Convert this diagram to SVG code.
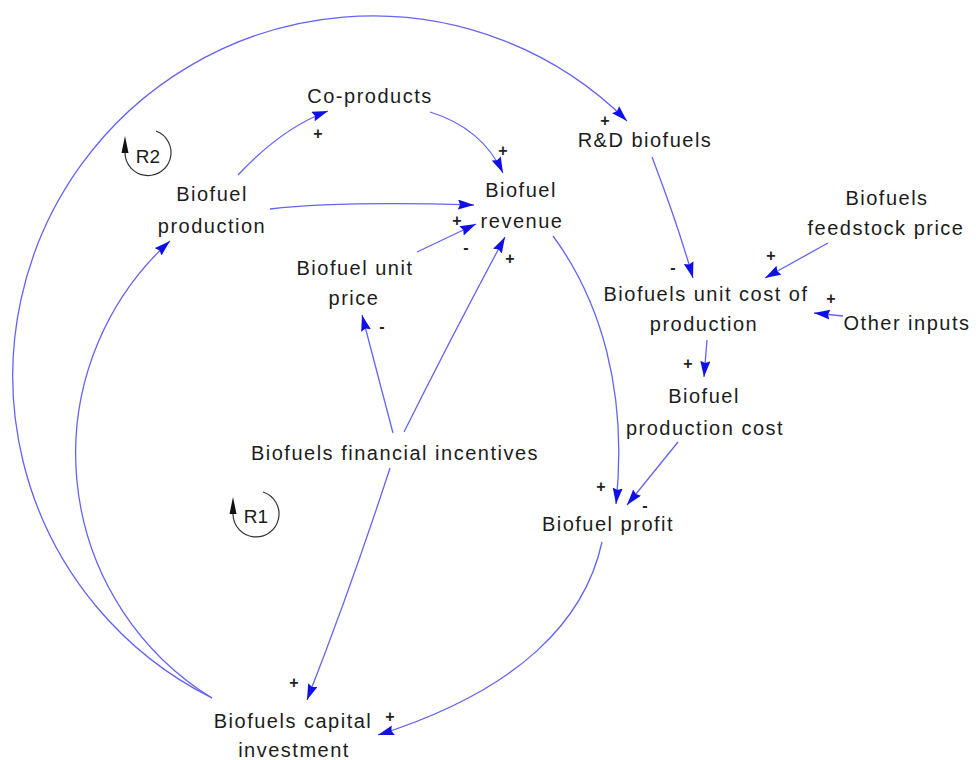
<svg xmlns="http://www.w3.org/2000/svg" width="976" height="760" viewBox="0 0 976 760">
  <style>
    .lbl { font-family: "Liberation Sans", Arial, sans-serif; font-size: 20px; letter-spacing: 1.5px; fill: #1c1c1c; text-anchor: middle; }
    .sgn { font-family: "Liberation Sans", Arial, sans-serif; font-size: 16px; font-weight: bold; fill: #222; text-anchor: middle; }
    .loop { font-family: "Liberation Sans", Arial, sans-serif; font-size: 19px; fill: #1c1c1c; text-anchor: middle; }
    .link { fill: none; stroke: #6464f2; stroke-width: 1.3; marker-end: url(#head); }
    .ring { fill: none; stroke: #333; stroke-width: 1.2; }
  </style>
  <defs>
    <marker id="head" markerUnits="userSpaceOnUse" markerWidth="18" markerHeight="12" refX="16" refY="5" orient="auto">
      <path d="M0,0 L16,5 L0,10 L2,5 z" fill="#0f0fe8"/>
    </marker>
  </defs>

  <rect width="976" height="760" fill="#ffffff"/>

  <!-- causal links -->
  <g id="connectors">
    <path class="link" d="M238,175 Q282,128 328,111"/>
    <path class="link" d="M430,112 Q482,128 503,173"/>
    <path class="link" d="M270,209 Q340,201 474,205"/>
    <path class="link" d="M417,252 L476,224"/>
    <path class="link" d="M404,432 Q455,330 505,237"/>
    <path class="link" d="M393,433 L362,315"/>
    <path class="link" d="M390,468 Q352,585 307,700"/>
    <path class="link" d="M553,236 C600,300 628,390 616,504"/>
    <path class="link" d="M678,442 L627,505"/>
    <path class="link" d="M652,157 Q678,225 693,278"/>
    <path class="link" d="M828,243 L765,278"/>
    <path class="link" d="M843,316 L814,313"/>
    <path class="link" d="M707,340 L704,377"/>
    <path class="link" d="M602,542 C585,620 520,690 378,735"/>
    <path class="link" d="M212,698 A287,287 0 0 1 170,241"/>
    <path class="link" d="M212,698 A360,360 0 1 1 627,121"/>
  </g>

  <!-- polarity signs -->
  <g id="polarities">
    <text class="sgn" x="318" y="139">+</text>
    <text class="sgn" x="503" y="156">+</text>
    <text class="sgn" x="605" y="126">+</text>
    <text class="sgn" x="457" y="226">+</text>
    <text class="sgn" x="466" y="253">-</text>
    <text class="sgn" x="510" y="264">+</text>
    <text class="sgn" x="382" y="332">-</text>
    <text class="sgn" x="673" y="273">-</text>
    <text class="sgn" x="771" y="261">+</text>
    <text class="sgn" x="831" y="304">+</text>
    <text class="sgn" x="688" y="369">+</text>
    <text class="sgn" x="601" y="492">+</text>
    <text class="sgn" x="645" y="511">-</text>
    <text class="sgn" x="294" y="688">+</text>
    <text class="sgn" x="390" y="722">+</text>
  </g>

  <!-- loop markers -->
  <g id="loop-R2">
    <path class="ring" d="M156,131 A23,23 0 1 1 125,153"/>
    <path d="M125,136 L128.5,153 L121.5,153 z" fill="#111"/>
    <text class="loop" x="148" y="163">R2</text>
  </g>
  <g id="loop-R1">
    <path class="ring" d="M263,492 A23,23 0 1 1 233,514"/>
    <path d="M233,497 L236.5,514 L229.5,514 z" fill="#111"/>
    <text class="loop" x="256" y="523">R1</text>
  </g>

  <!-- variables -->
  <g id="co-products"><text class="lbl" x="370" y="103">Co-products</text></g>
  <g id="rd-biofuels"><text class="lbl" x="645" y="147">R&amp;D biofuels</text></g>
  <g id="biofuel-revenue">
    <text class="lbl" x="521" y="197">Biofuel</text>
    <text class="lbl" x="522" y="228">revenue</text>
  </g>
  <g id="biofuel-production">
    <text class="lbl" x="212" y="201">Biofuel</text>
    <text class="lbl" x="212" y="233">production</text>
  </g>
  <g id="biofuel-unit-price">
    <text class="lbl" x="355" y="275">Biofuel unit</text>
    <text class="lbl" x="354" y="305">price</text>
  </g>
  <g id="financial-incentives"><text class="lbl" x="395" y="460">Biofuels financial incentives</text></g>
  <g id="unit-cost">
    <text class="lbl" x="706" y="301">Biofuels unit cost of</text>
    <text class="lbl" x="704" y="331">production</text>
  </g>
  <g id="feedstock-price">
    <text class="lbl" x="887" y="205">Biofuels</text>
    <text class="lbl" x="886" y="235">feedstock price</text>
  </g>
  <g id="other-inputs"><text class="lbl" x="907" y="330">Other inputs</text></g>
  <g id="production-cost">
    <text class="lbl" x="704" y="403">Biofuel</text>
    <text class="lbl" x="705" y="435">production cost</text>
  </g>
  <g id="biofuel-profit"><text class="lbl" x="608" y="531">Biofuel profit</text></g>
  <g id="capital-investment">
    <text class="lbl" x="293" y="728">Biofuels capital</text>
    <text class="lbl" x="294" y="757">investment</text>
  </g>
</svg>
